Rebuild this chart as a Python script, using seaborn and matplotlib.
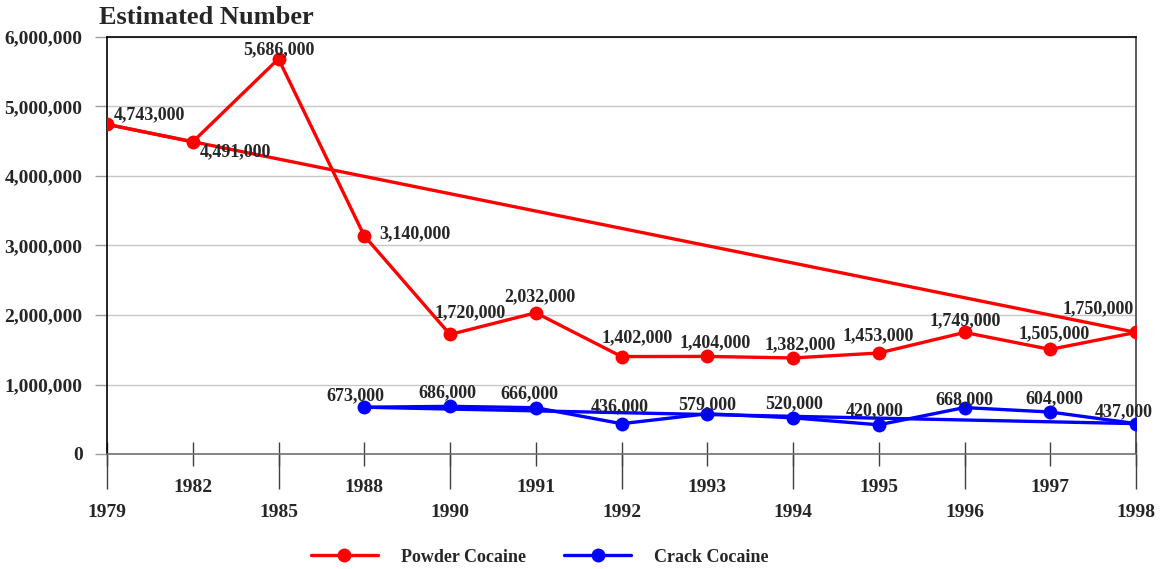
import matplotlib
matplotlib.use("Agg")
import matplotlib.pyplot as plt
from matplotlib.lines import Line2D
from matplotlib.ticker import FixedLocator, FuncFormatter
import pandas as pd
import seaborn as sns

# ── data ────────────────────────────────────────────────────────────────────
years = ["1979", "1982", "1985", "1988", "1990", "1991", "1992",
         "1993", "1994", "1995", "1996", "1997", "1998"]
powder = [4743000, 4491000, 5686000, 3140000, 1720000, 2032000, 1402000,
          1404000, 1382000, 1453000, 1749000, 1505000, 1750000]
crack_years = ["1988", "1990", "1991", "1992", "1993", "1994", "1995",
               "1996", "1997", "1998"]
crack = [673000, 686000, 666000, 436000, 579000, 520000, 420000,
         668000, 604000, 437000]
y_ticks = [0, 1000000, 2000000, 3000000, 4000000, 5000000, 6000000]

# label offsets in pixels (dx, dy) -- just placement, not data
powder_off = [(42, 10), (43, -10), (0, 9), (51, 2), (20, 22), (4, 16), (16, 19),
              (8, 14), (7, 13), (-1, 17), (1, 12), (4, 16), (-38, 24)]
crack_off = [(-9, 11), (-3, 14), (-6, 14), (-2, 17), (0, 9), (1, 14), (-4, 14),
             (0, 8), (4, 13), (-12, 12)]

RED, BLUE = "#ff0000", "#0000ff"

sns.set_style("white")
plt.rcParams["font.family"] = ["Liberation Serif", "DejaVu Serif"]
plt.rcParams["font.weight"] = "bold"

df = pd.concat([
    pd.DataFrame({"year": years, "users": powder, "drug": "Powder Cocaine"}),
    pd.DataFrame({"year": crack_years, "users": crack, "drug": "Crack Cocaine"}),
])
df["pos"] = df["year"].map({y: i for i, y in enumerate(years)})

fig = plt.figure(figsize=(11.62, 5.69), dpi=100)
ax = fig.add_axes([107 / 1162, 115 / 569, 1029 / 1162, 417 / 569])

sns.lineplot(data=df, x="pos", y="users", hue="drug", sort=False,
             palette={"Powder Cocaine": RED, "Crack Cocaine": BLUE},
             marker="o", markersize=10, markeredgewidth=0, linewidth=2.4,
             legend=False, ax=ax, zorder=3)

# straight line joining first and last point of each series
for ys, yv, col in [(years, powder, RED), (crack_years, crack, BLUE)]:
    xs = [years.index(ys[0]), years.index(ys[-1])]
    ax.plot(xs, [yv[0], yv[-1]], color=col, linewidth=2.4, zorder=2)

# value labels
for ys, yv, offs in [(years, powder, powder_off), (crack_years, crack, crack_off)]:
    for yr, v, (dx, dy) in zip(ys, yv, offs):
        ax.annotate(f"{v:,}", xy=(years.index(yr), v), xytext=(dx, dy),
                    textcoords="offset pixels", ha="center", va="center",
                    fontsize=13, fontweight="bold", zorder=5)

ax.set_xlim(0, len(years) - 1)
ax.set_ylim(0, 6000000)
ax.set_xlabel("")
ax.set_ylabel("")

# y axis
ax.set_yticks(y_ticks)
ax.yaxis.set_major_formatter(FuncFormatter(lambda v, p: f"{int(v):,}"))
ax.tick_params(axis="y", left=True, direction="out", length=8.6, width=1,
               color="#a0a0a0", pad=9, labelsize=14)
ax.grid(axis="y", color="#c8c8c8", linewidth=1)

# x axis: every year gets a short tick through the axis; the lower label
# row (even positions) gets a long tick hanging below it
lower = list(range(0, len(years), 2))
ax.xaxis.remove_overlapping_locs = False
ax.xaxis.set_major_locator(FixedLocator(range(len(years))))
ax.xaxis.set_major_formatter(
    FuncFormatter(lambda v, p: "" if int(round(v)) % 2 == 0 else years[int(round(v))]))
ax.xaxis.set_minor_locator(FixedLocator(lower))
ax.xaxis.set_minor_formatter(FuncFormatter(lambda v, p: years[int(round(v))]))
ax.tick_params(axis="x", which="major", bottom=True, direction="inout", length=17.3,
               width=1, color="#404040", pad=9.6, labelsize=14)
ax.tick_params(axis="x", which="minor", bottom=True, direction="out", length=25.2,
               width=1, color="#404040", pad=11, labelsize=14, labelbottom=True)

ax.spines["top"].set_color("black")
ax.spines["right"].set_color("#404040")
ax.spines["bottom"].set_color("#707070")
for s in ["top", "right", "bottom"]:
    ax.spines[s].set_linewidth(1.2)
ax.spines["left"].set_color("black")
ax.spines["left"].set_linewidth(1.2)

fig.text(99 / 1162, 1 - 18 / 569, "Estimated Number", ha="left", va="center",
         fontsize=19, fontweight="bold")

handles = [Line2D([], [], color=RED, marker="o", markersize=10, linewidth=2.4,
                  markeredgewidth=0, label="Powder Cocaine"),
           Line2D([], [], color=BLUE, marker="o", markersize=10, linewidth=2.4,
                  markeredgewidth=0, label="Crack Cocaine")]
fig.legend(handles=handles, loc="center", bbox_to_anchor=(540 / 1162, 1 - 557 / 569),
           ncol=2, frameon=False, fontsize=13, handlelength=3.7, handletextpad=1.3,
           columnspacing=2.1)

fig.savefig("out.png", dpi=100)
